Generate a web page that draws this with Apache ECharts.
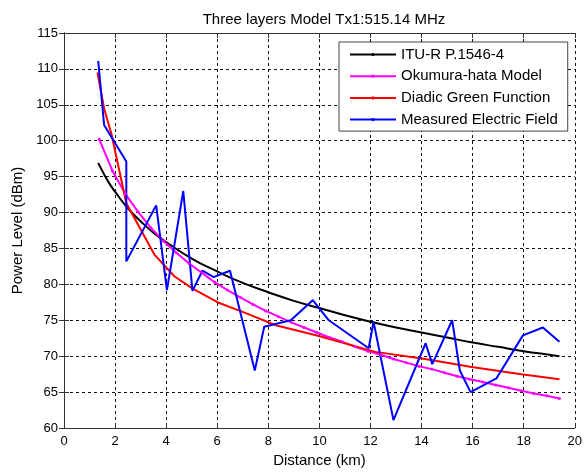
<!DOCTYPE html>
<html>
<head>
<meta charset="utf-8">
<script src="https://cdn.jsdelivr.net/npm/echarts@6/dist/echarts.min.js"></script>
<style>
  html, body { margin: 0; padding: 0; background: #fff; }
  #chart { width: 585px; height: 473px; }
</style>
</head>
<body>
<div id="chart"></div>
<script>
// ITU-R P.1546-4
var ituKm = [1.34, 1.5, 1.75, 2, 2.5, 3, 3.5, 4, 5, 6, 7, 8, 9, 10, 11, 12, 13, 14, 15, 16, 17, 18, 19, 19.4]
var ituDb = [96.9, 95.8, 94.2, 92.9, 90.6, 88.8, 87.2, 85.9, 83.6, 81.8, 80.2, 78.9, 77.7, 76.7, 75.7, 74.8, 74.0, 73.3, 72.6, 71.9, 71.3, 70.7, 70.2, 70.0]

// Okumura-hata
var okuKm = [1.38, 1.9, 2.4, 2.9, 3.4, 3.9, 4.4, 4.9, 5.4, 5.9, 6.4, 6.9, 7.4, 7.9, 8.4, 8.9, 9.4, 9.9, 10.4, 10.9,
  11.4, 11.9, 12.4, 12.9, 13.4, 13.9, 14.4, 14.9, 15.4, 15.9, 16.4, 16.9, 17.4, 17.9, 18.4, 18.9, 19.4]
var okuDb = [100.2, 95.8, 92.6, 90.1, 87.9, 86.0, 84.4, 82.9, 81.6, 80.3, 79.2, 78.2, 77.2, 76.3, 75.5, 74.7, 74.0, 73.3, 72.6, 72.0,
  71.3, 70.7, 70.2, 69.6, 69.1, 68.6, 68.2, 67.7, 67.2, 66.8, 66.4, 66.0, 65.6, 65.2, 64.8, 64.5, 64.1]

// Diadic Green Function
var dgfKm = [1.31, 1.57, 1.86, 2.44, 3.55, 4.33, 5.04, 6.08, 7.12, 8.29, 9.98, 12.19, 14.14, 15.96, 17.91, 19.4]
var dgfDb = [109.5, 104.5, 100.9, 91.3, 84.1, 81.1, 79.4, 77.4, 76.0, 74.3, 72.8, 70.6, 69.6, 68.5, 67.5, 66.8]

// Measured Electric Field
var measKm = [1.34, 1.57, 2.44, 2.44, 3.61, 4.03, 4.67, 5.03, 5.42, 5.86, 6.5, 7.47, 7.84, 8.88, 9.74, 10.37, 11.93, 12.12,
  12.9, 14.16, 14.42, 15.2, 15.5, 15.92, 16.93, 17.97, 18.75, 19.4]
var measDb = [111.1, 102.2, 97.1, 83.2, 91.0, 79.2, 93.0, 79.1, 81.9, 81.0, 81.9, 68.0, 74.1, 75.0, 77.8, 75.0, 71.1, 74.8,
  61.1, 71.8, 68.9, 75.0, 68.0, 65.0, 66.9, 72.9, 74.0, 72.0]

var xTicks = { min: 0, max: 20, interval: 2 }
var yTicks = { min: 60, max: 115, interval: 5 }

function pairs (xs, ys) {
  return xs.map(function (x, i) { return [x, ys[i]] })
}

var font = 'Liberation Sans, Arial, sans-serif'
var axisColor = '#333'

var myChart = echarts.init(document.getElementById('chart'))
var option = {
  backgroundColor: '#fff',
  animation: false,
  title: {
    text: 'Three layers Model Tx1:515.14 MHz',
    left: 319,
    textAlign: 'center',
    top: 7,
    textStyle: { fontFamily: font, fontSize: 15, fontWeight: 'normal', color: '#000' }
  },
  grid: { left: 64, right: 9, top: 33, bottom: 45 },
  legend: {
    orient: 'vertical',
    left: 339,
    top: 42,
    padding: [5, 10, 4, 10],
    itemWidth: 46,
    itemHeight: 4,
    itemGap: 6.7,
    backgroundColor: '#fff',
    borderColor: '#444',
    borderWidth: 1,
    textStyle: { fontFamily: font, fontSize: 15, lineHeight: 15, color: '#000' },
    data: ['ITU-R P.1546-4', 'Okumura-hata Model', 'Diadic Green Function', 'Measured Electric Field']
  },
  xAxis: [{
    type: 'value',
    min: xTicks.min, max: xTicks.max, interval: xTicks.interval,
    name: 'Distance (km)',
    nameLocation: 'middle',
    nameGap: 25,
    nameTextStyle: { fontFamily: font, fontSize: 15, color: '#000' },
    axisLine: { lineStyle: { color: axisColor } },
    axisTick: { inside: true, length: 5, lineStyle: { color: axisColor } },
    axisLabel: { fontFamily: font, fontSize: 13, color: '#000', margin: 7 },
    splitLine: { show: true, lineStyle: { color: '#111', type: [3, 3], width: 1 } }
  }, {
    type: 'value', position: 'top',
    min: xTicks.min, max: xTicks.max, interval: xTicks.interval,
    axisLine: { show: true, lineStyle: { color: axisColor } },
    axisTick: { inside: true, length: 5, lineStyle: { color: axisColor } },
    axisLabel: { show: false },
    splitLine: { show: false }
  }],
  yAxis: [{
    type: 'value',
    min: yTicks.min, max: yTicks.max, interval: yTicks.interval,
    name: 'Power Level (dBm)',
    nameLocation: 'middle',
    nameGap: 39,
    nameTextStyle: { fontFamily: font, fontSize: 15, color: '#000' },
    axisLine: { show: true, lineStyle: { color: axisColor } },
    axisTick: { show: true, inside: true, length: 5, lineStyle: { color: axisColor } },
    axisLabel: { fontFamily: font, fontSize: 13, color: '#000', margin: 6 },
    splitLine: { show: true, lineStyle: { color: '#111', type: [3, 3], width: 1 } }
  }, {
    type: 'value', position: 'right',
    min: yTicks.min, max: yTicks.max, interval: yTicks.interval,
    axisLine: { show: true, lineStyle: { color: axisColor } },
    axisTick: { show: true, inside: true, length: 5, lineStyle: { color: axisColor } },
    axisLabel: { show: false },
    splitLine: { show: false }
  }],
  series: [{
    name: 'ITU-R P.1546-4',
    type: 'line',
    smooth: true,
    symbol: 'none',
    lineStyle: { color: '#000', width: 2 },
    itemStyle: { color: '#000' },
    data: pairs(ituKm, ituDb)
  }, {
    name: 'Okumura-hata Model',
    type: 'line',
    symbol: 'circle',
    symbolSize: 3,
    lineStyle: { color: '#ff00ff', width: 2 },
    itemStyle: { color: '#ff00ff' },
    data: pairs(okuKm, okuDb)
  }, {
    name: 'Diadic Green Function',
    type: 'line',
    symbol: 'none',
    lineStyle: { color: '#ff0000', width: 2 },
    itemStyle: { color: '#ff0000' },
    data: pairs(dgfKm, dgfDb)
  }, {
    name: 'Measured Electric Field',
    type: 'line',
    symbol: 'none',
    lineStyle: { color: '#0000ff', width: 2 },
    itemStyle: { color: '#0000ff' },
    data: pairs(measKm, measDb)
  }]
}
myChart.setOption(option)
</script>
</body>
</html>
